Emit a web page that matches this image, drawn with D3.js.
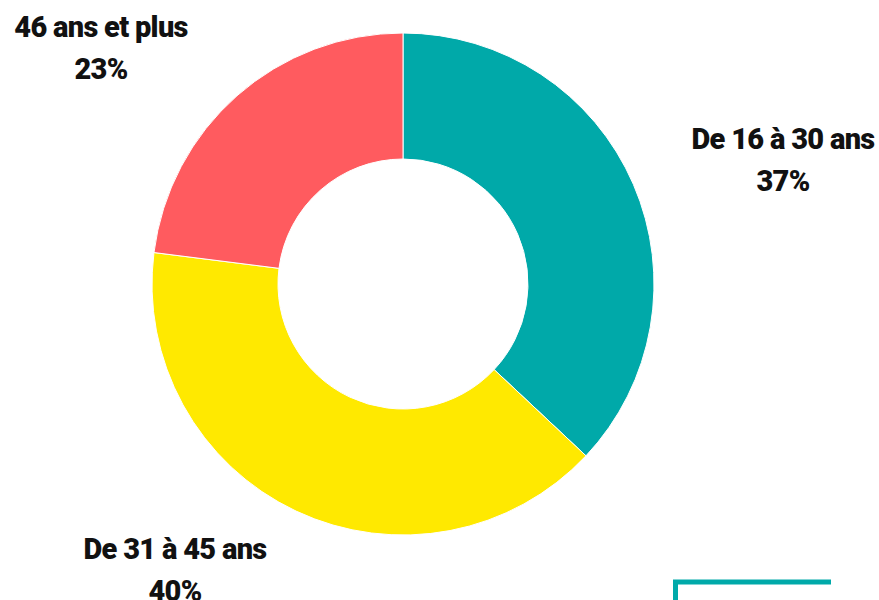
<!DOCTYPE html>
<html>
<head>
<meta charset="utf-8">
<script src="https://cdn.jsdelivr.net/npm/d3@7"></script>
<style>
  body { margin: 0; background: #fff; }
  text { font-family: Roboto, "Noto Sans", sans-serif; font-weight: 900; }
</style>
</head>
<body>
<svg id="chart"></svg>
<script>
var width = 879, height = 600;

var categories = ["De 16 à 30 ans", "De 31 à 45 ans", "46 ans et plus"];
var values = [37, 40, 23];
var colors = ["#00a9a9", "#ffe900", "#ff5b5f"];

var data = categories.map(function(c, i) { return { label: c, value: values[i] }; });

var svg = d3.select("#chart")
  .attr("width", width)
  .attr("height", height);

var cx = 403, cy = 284;
var outerR = 251, innerR = 125;

var pie = d3.pie()
  .sort(null)
  .value(function(d) { return d.value; });

var arc = d3.arc()
  .innerRadius(innerR)
  .outerRadius(outerR);

var color = d3.scaleOrdinal().domain(categories).range(colors);

var group = svg.append("g")
  .attr("transform", "translate(" + cx + "," + cy + ")");

group.selectAll("path")
  .data(pie(data))
  .enter()
  .append("path")
  .attr("d", arc)
  .attr("fill", function(d) { return color(d.data.label); })
  .attr("stroke", "#fff")
  .attr("stroke-width", 1);

// label spots, placed by hand like the original
var labelPos = {
  "De 16 à 30 ans": [783, 149],
  "De 31 à 45 ans": [175, 559],
  "46 ans et plus": [101, 37]
};

var labels = svg.selectAll("g.lbl")
  .data(data)
  .enter()
  .append("g")
  .attr("class", "lbl")
  .attr("transform", function(d) {
    var p = labelPos[d.label];
    return "translate(" + p[0] + "," + p[1] + ")";
  });

labels.append("text")
  .attr("text-anchor", "middle")
  .style("font-size", "29px")
  .style("letter-spacing", "-0.7px")
  .style("fill", "#111")
  .text(function(d) { return d.label; });

labels.append("text")
  .attr("y", 42)
  .attr("text-anchor", "middle")
  .style("font-size", "29px")
  .style("letter-spacing", "-0.7px")
  .style("fill", "#111")
  .text(function(d) { return d.value + "%"; });

// teal corner bracket bottom right
svg.append("path")
  .attr("d", "M675.5,600 V582 H831")
  .attr("fill", "none")
  .attr("stroke", "#00a9a9")
  .attr("stroke-width", 5);
</script>
</body>
</html>
